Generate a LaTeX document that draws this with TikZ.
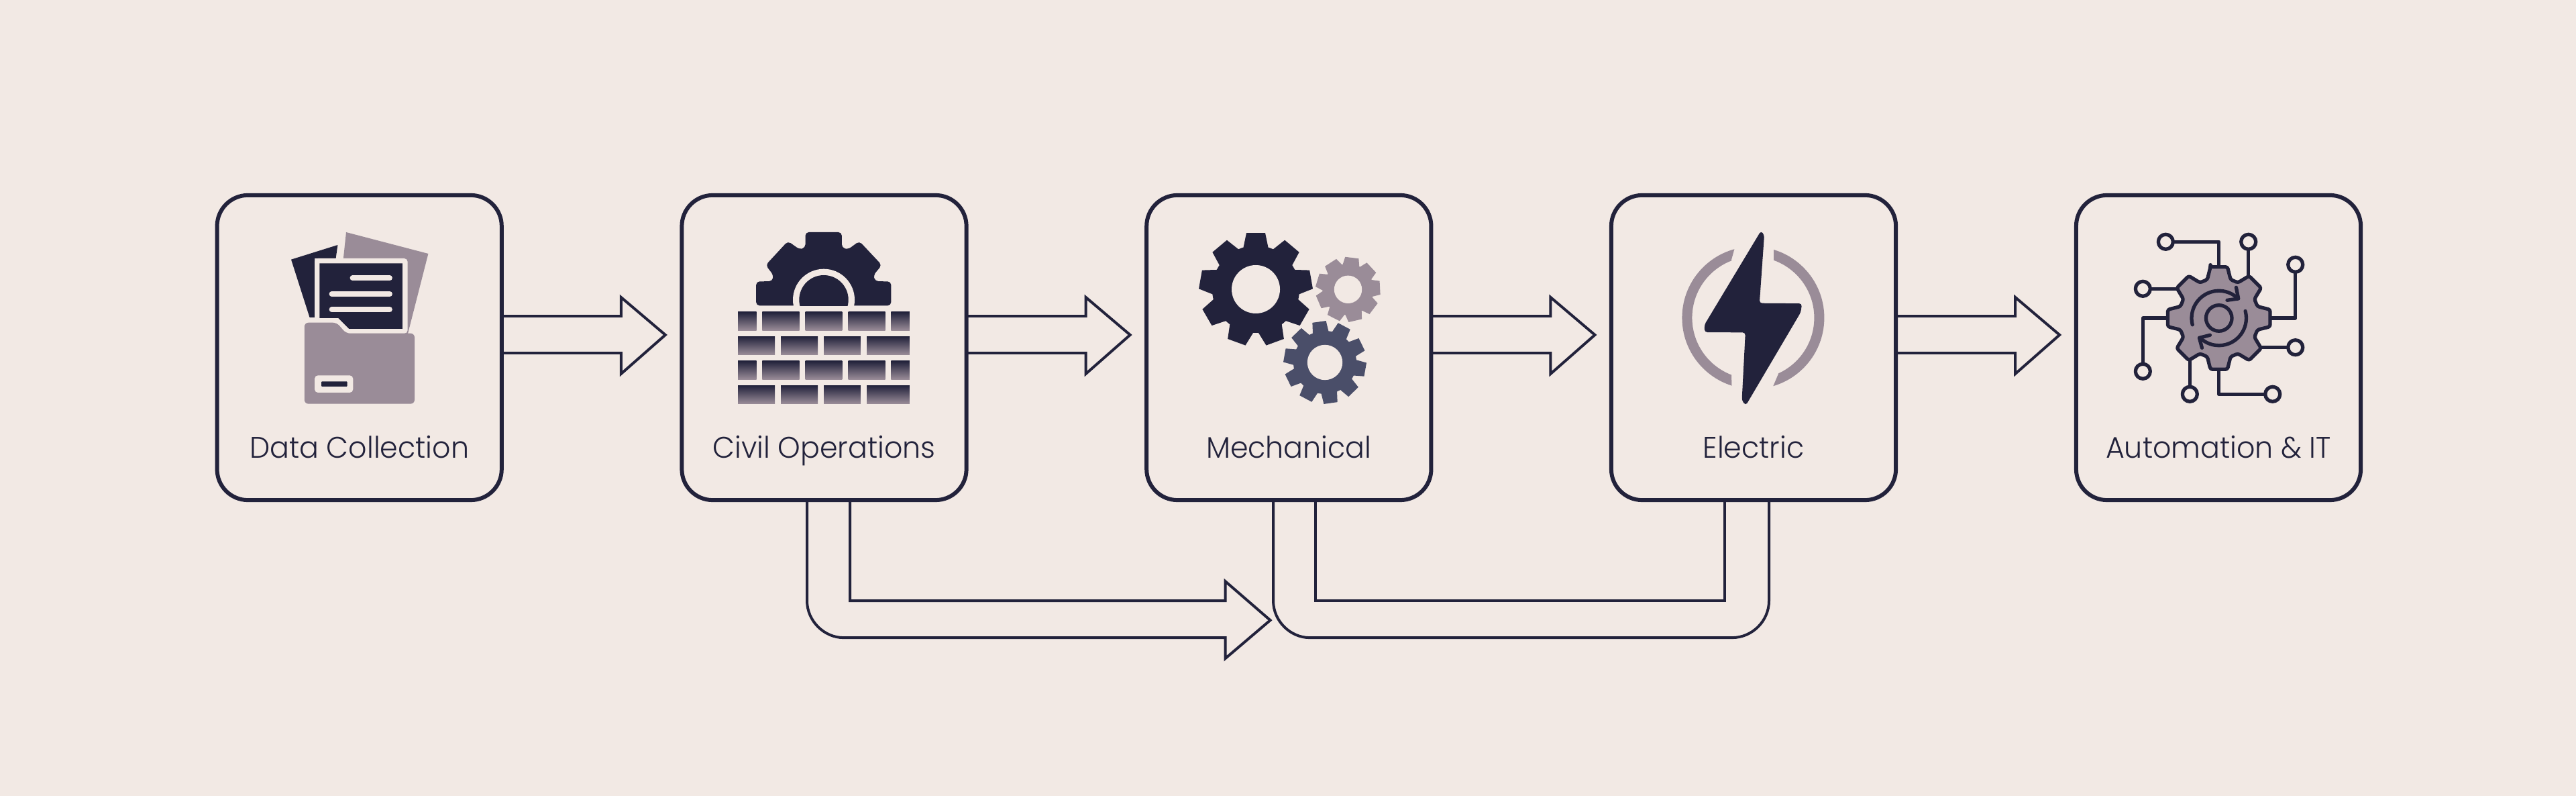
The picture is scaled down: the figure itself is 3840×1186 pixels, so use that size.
\documentclass[tikz,border=0pt]{standalone}
\usepackage{fontspec}
\setmainfont{Poppins Light}[FakeStretch=0.965]
\usetikzlibrary{calc}
\definecolor{bgc}{HTML}{F2E9E4}
\definecolor{dk}{HTML}{22223B}
\definecolor{mv}{HTML}{9A8C98}
\definecolor{md}{HTML}{4A4E69}
\tikzset{
  stagebox/.style={draw=dk,line width=1.7pt,rounded corners=0.46cm,minimum width=4.24cm,minimum height=4.54cm,inner sep=0pt,outer sep=0pt},
  stagelabel/.style={anchor=base,text=dk,inner sep=0pt,font=\fontsize{12.6pt}{14pt}\selectfont},
  blockarrow/.style={draw=dk,line width=1.13pt,miter limit=10,line join=miter},
  iconline/.style={draw=dk,line width=1.5pt,line cap=round,line join=round},
  brick/.style={top color=dk,bottom color=mv,draw=none},
}
% gear: cx cy root tip n phi0 tipHalfAngle baseHalfAngle colour
\newcommand{\gearicon}[9]{%
  \begin{scope}[shift={(#1,#2)}]
    \fill[#9] (0,0) circle [radius=#3];
    \foreach \k in {1,...,#5}{
      \pgfmathsetmacro{\aa}{#6-90+(\k-1)*360/#5}
      \fill[#9] ({\aa-#8}:#3-1) -- ({\aa-#7}:#4) -- ({\aa+#7}:#4) -- ({\aa+#8}:#3-1) -- cycle;
    }
  \end{scope}}
\newcommand{\flowarrow}[1]{%
  \draw[blockarrow] ($(#1.east)+(0,-47)$) -- ++(178,0) -- ++(0,-28) -- ++(66,56) -- ++(-66,58) -- ++(0,-31) -- ++(-178,0);}
\newcommand{\brickA}[1]{%
  \fill[brick] (1100,#1) rectangle ++(27.6,27.3);
  \fill[brick] (1136.4,#1) rectangle ++(55.1,27.3);
  \fill[brick] (1200.6,#1) rectangle ++(54.7,27.3);
  \fill[brick] (1264.5,#1) rectangle ++(55.1,27.3);
  \fill[brick] (1328.3,#1) rectangle ++(27.5,27.3);}
\newcommand{\brickB}[1]{%
  \fill[brick] (1100,#1) rectangle ++(55.2,27.3);
  \fill[brick] (1164,#1) rectangle ++(55,27.3);
  \fill[brick] (1228.2,#1) rectangle ++(54.6,27.3);
  \fill[brick] (1292,#1) rectangle ++(63.8,27.3);}
\newcommand{\terminal}[2]{\filldraw[iconline,fill=bgc] (#1,#2) circle [radius=11];}
\begin{document}
\begin{tikzpicture}[x=0.01cm,y=-0.01cm]
\useasboundingbox (0,0) rectangle (3840,1186);
\fill[bgc] (0,0) rectangle (3840,1186);

% stage boxes
\node[stagebox] (a) at (535.7,518) {};
\node[stagebox] (b) at (1228.5,518) {};
\node[stagebox] (c) at (1921.3,518) {};
\node[stagebox] (d) at (2614,518) {};
\node[stagebox] (e) at (3307,518) {};

% labels
\node[stagelabel] (la) at ($(a.center)+(0,165)$) {Data Collection};
\node[stagelabel] (lb) at ($(b.center)+(0,165)$) {Civil Operations};
\node[stagelabel] (lc) at ($(c.center)+(0,165)$) {Mechanical};
\node[stagelabel] (ld) at ($(d.center)+(0,165)$) {Electric};
\node[stagelabel] (le) at ($(e.center)+(0,165)$) {Automation \& IT};

% straight block arrows
\flowarrow{a}\flowarrow{b}\flowarrow{c}\flowarrow{d}

% bent arrow from Civil Operations
\draw[blockarrow] ($(b.south)+(38.5,0)$) -- ++(0,150) -- ++(559.5,0) -- ++(0,-29) -- ++(67,58) -- ++(-67,57) -- ++(0,-31) -- ($(b.south)+(29,205)$)
  .. controls ($(b.south)+(0,205)$) and ($(b.south)+(-25.5,180)$) .. ($(b.south)+(-25.5,150)$) -- ($(b.south)+(-25.5,0)$);

% U connector Mechanical - Electric
\draw[blockarrow] ($(c.south)+(39.7,0)$) -- ++(0,150) -- ($(d.south)+(-43,150)$) -- ($(d.south)+(-43,0)$);
\draw[blockarrow] ($(c.south)+(-23.3,0)$) -- ++(0,150) .. controls ($(c.south)+(-23.3,180)$) and ($(c.south)+(2,205)$) .. ($(c.south)+(31,205)$)
  -- ($(d.south)+(-32,205)$) .. controls ($(d.south)+(-2,205)$) and ($(d.south)+(23,180)$) .. ($(d.south)+(23,150)$) -- ($(d.south)+(23,0)$);

% --- folder icon
\fill[mv] (516,346) -- (638.4,378) -- (608,497) -- (500,497) -- cycle;
\fill[dk] (503.4,365) -- (434,386.7) -- (461.6,473) -- (469,473) -- (469,385) -- (500.6,385) -- cycle;
\fill[bgc,rounded corners=0.05cm] (469,385) rectangle (607.6,497);
\fill[dk] (476.3,392.3) -- (599.8,392.3) -- (599.8,490) -- (520.4,490) -- (504.3,474) -- (476.3,474) -- cycle;
\draw[bgc,line width=2.2pt,line cap=round] (525.5,414.3) -- (581,414.3);
\draw[bgc,line width=2.2pt,line cap=round] (494.5,438) -- (581,438);
\draw[bgc,line width=2.2pt,line cap=round] (494.5,461.3) -- (581,461.3);
\fill[mv,rounded corners=0.06cm] (453.8,480.7) -- (502,480.7) -- (515.8,496.7) -- (618,496.7) -- (618,601.7) -- (453.8,601.7) -- cycle;
\fill[bgc,rounded corners=0.05cm] (469,559.3) rectangle (526.3,585);
\fill[dk,rounded corners=0.01cm] (479,568.3) rectangle (517.6,576);

% --- gear and wall icon
\fill[dk,rounded corners=0.05cm] (1127.2,455.3) -- (1127.2,419.5) -- (1151.5,419) -- (1152.9,410) -- (1141.4,395) -- (1174.5,359.3) -- (1192,371.7) -- (1200.6,369) -- (1200.6,346) -- (1254.8,346) -- (1254.8,369) -- (1264,371.7) -- (1281,359.3) -- (1314.5,395) -- (1302,410) -- (1304.4,419) -- (1328.3,419.5) -- (1328.3,455.3) -- cycle;
\begin{scope}
  \clip (1100,340) rectangle (1356,455.3);
  \fill[bgc] (1228,446.7) circle [radius=46];
  \fill[dk] (1228,446.7) circle [radius=36.7];
\end{scope}
\brickA{465}\brickB{501.3}\brickA{538}\brickB{574.3}

% --- three gears icon
\gearicon{1872}{431}{65}{85}{9}{0}{9.5}{17}{dk}
\fill[bgc] (1872,431) circle [radius=36];
\gearicon{2009.5}{431.3}{38}{48.7}{9}{7}{12}{20}{mv}
\fill[bgc] (2009.5,431.3) circle [radius=20.7];
\gearicon{1975}{540}{47}{62}{10}{-8}{9.5}{15}{md}
\fill[bgc] (1975,540) circle [radius=26.2];

% --- lightning icon
\begin{scope}
  \clip (2594,340) -- (2581,387) -- (2581,560) -- (2582,590) -- (2480,590) -- (2480,340) -- cycle;
  \fill[mv,even odd rule] (2613.4,473.5) circle [radius=106] (2613.4,473.5) circle [radius=91];
\end{scope}
\begin{scope}
  \clip (2644,340) -- (2644,387) -- (2651,557) -- (2637,590) -- (2740,590) -- (2740,340) -- cycle;
  \fill[mv,even odd rule] (2613.4,473.5) circle [radius=106] (2613.4,473.5) circle [radius=91];
\end{scope}
\fill[dk,rounded corners=0.04cm] (2625,344) -- (2630,350) -- (2622.8,451.7) -- (2686,452.2) -- (2684.5,465) -- (2602.5,604) -- (2596.5,597) -- (2601.8,495.4) -- (2541,495) -- (2540.7,484) -- cycle;

% --- automation icon
\draw[iconline] (3228.3,360.3) -- (3307.7,360.3) -- (3307.7,396.7);
\draw[iconline] (3351.7,360.3) -- (3351.7,410);
\draw[iconline] (3421.7,394.3) -- (3421.7,474) -- (3385,474);
\draw[iconline] (3194.3,430.3) -- (3243.3,430.3);
\draw[iconline] (3194.3,553.3) -- (3194.3,474) -- (3230,474);
\draw[iconline] (3421.7,517.7) -- (3371.7,517.7);
\draw[iconline] (3264.3,587.3) -- (3264.3,536.7);
\draw[iconline] (3387.7,587.3) -- (3307.7,587.3) -- (3307.7,551.7);
\terminal{3228.3}{360.3}\terminal{3351.7}{360.3}\terminal{3421.7}{394.3}\terminal{3194.3}{430.3}
\terminal{3194.3}{553.3}\terminal{3421.7}{517.7}\terminal{3264.3}{587.3}\terminal{3387.7}{587.3}
\begin{scope}[shift={(3307.7,474)}]
  \filldraw[iconline,fill=mv,rounded corners=0.03cm] (-99.45:77.35) \foreach \k in {0,...,7}{
      -- ({\k*45-99.45}:77.35) -- ({\k*45-80.55}:77.35) -- ({\k*45-73.2}:60) -- ({\k*45-61.8}:60)
    } -- cycle;
  \draw[iconline] (0,0) circle [radius=19.3];
  \draw[iconline] plot[domain=166:310,samples=40,smooth] ({40.7*cos(\x)},{40.7*sin(\x)});
  \draw[iconline] (25.7,-45.7) -- (29,-29) -- (12.3,-26.7);
  \draw[iconline] plot[domain=-15:133,samples=40,smooth] ({40.7*cos(\x)},{40.7*sin(\x)});
  \draw[iconline] (-13.3,25.3) -- (-29.3,29.3) -- (-25.3,44.3);
\end{scope}
\end{tikzpicture}
\end{document}
